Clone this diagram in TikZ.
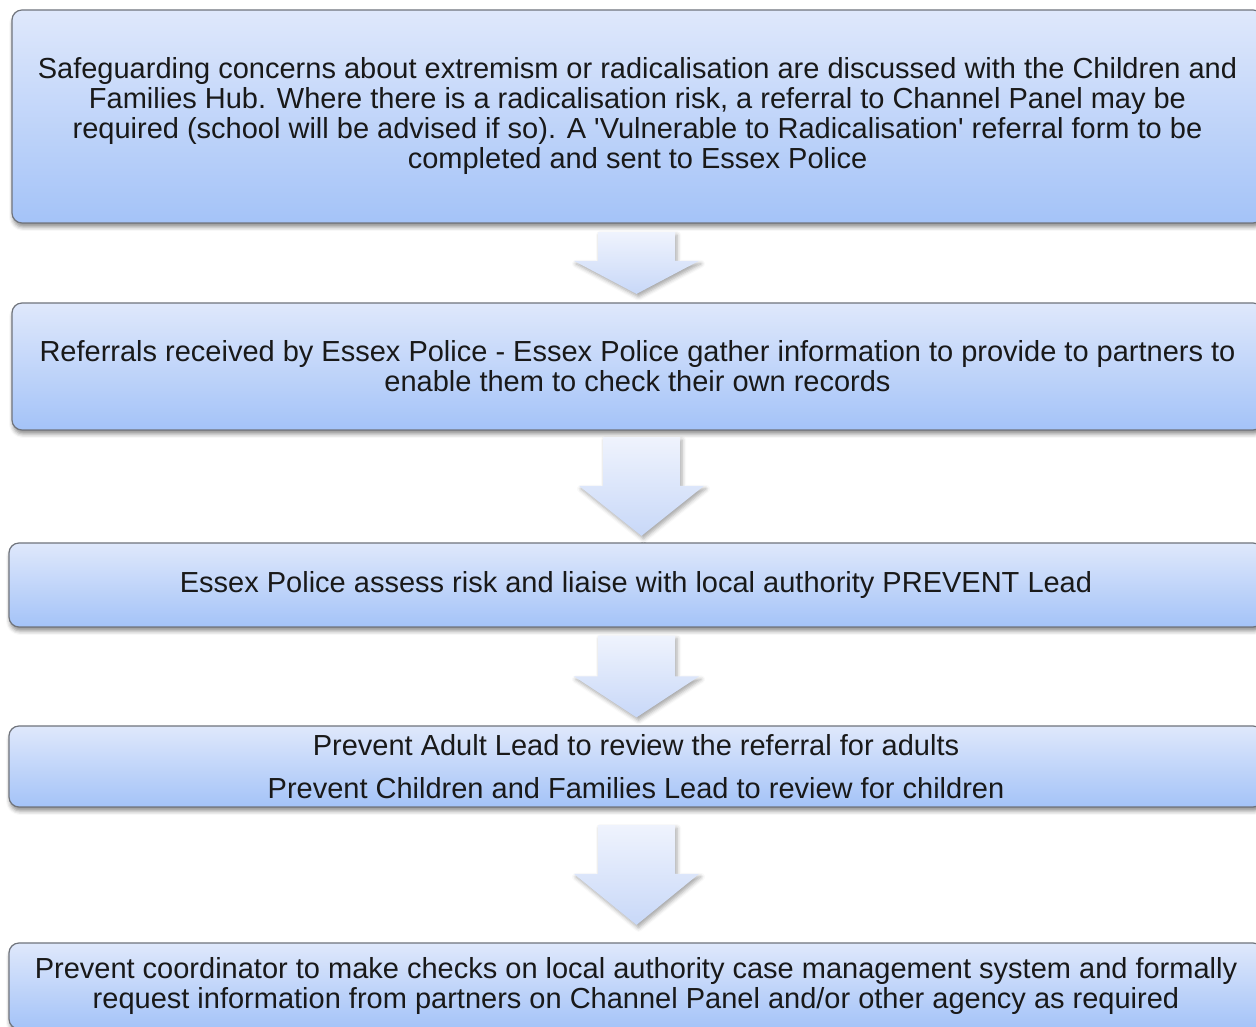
\documentclass[tikz,border=0pt]{standalone}
\usepackage{fontspec}
\newfontfamily\flowfont{Liberation Sans}
\usetikzlibrary{calc,shadows.blur}

\definecolor{boxtop}{RGB}{223,232,251}
\definecolor{boxbottom}{RGB}{164,195,248}
\definecolor{boxline}{RGB}{112,116,124}
\definecolor{arrowtop}{RGB}{239,243,253}
\definecolor{arrowbottom}{RGB}{200,216,248}

% block arrow: from, to, x, gap, head length
\newcommand{\flowarrow}[5]{%
\path [arrowfill] let \p1=(#1.south), \p2=(#2.north) in
    (#3-38.5,\y1-#4) -- (#3+38.5,\y1-#4) -- (#3+38.5,\y2+#4+#5) -- (#3+62.5,\y2+#4+#5)
    -- (#3,\y2+#4) -- (#3-62.5,\y2+#4+#5) -- (#3-38.5,\y2+#4+#5) -- cycle;}

\begin{document}
\begin{tikzpicture}[x=1pt,y=1pt,
    stagebox/.style={draw=boxline,
        line width=1.2pt,
        rounded corners=10pt,
        top color=boxtop,
        bottom color=boxbottom,
        blur shadow={shadow xshift=1pt, shadow yshift=-4pt, shadow blur radius=4pt, shadow opacity=45},
        align=center,
        inner sep=0pt,
        text=black!90,
        font=\flowfont\fontsize{29}{30}\selectfont},
    arrowfill/.style={draw=none,
        top color=arrowtop,
        bottom color=arrowbottom,
        blur shadow={shadow xshift=2pt, shadow yshift=-3pt, shadow blur radius=4pt, shadow opacity=35}}
]
\useasboundingbox (0,0) rectangle (1256,1027);

% Box 1
\node (concern) [stagebox,
    minimum width=1251pt,
    minimum height=213pt
] at (637.5,910.5) {Safeguarding concerns about extremism or radicalisation are discussed with the Children and\\
Families Hub.  Where there is a radicalisation risk, a referral to Channel Panel may be\\
required (school will be advised if so).  A 'Vulnerable to Radicalisation' referral form to be\\
completed and sent to Essex Police};

% Box 2
\node (received) [stagebox,
    minimum width=1251pt,
    minimum height=127pt
] at (637.5,660.5) {Referrals received by Essex Police - Essex Police gather information to provide to partners to\\
enable them to check their own records};

% Box 3
\node (assess) [stagebox,
    minimum width=1254pt,
    minimum height=84pt
] at (636,442) {Essex Police assess risk and liaise with local authority PREVENT Lead};

% Box 4
\node (review) [stagebox,
    minimum width=1254pt,
    minimum height=81pt
] at (636,260.5) {Prevent Adult Lead to review the referral for adults\\[13pt]
Prevent Children and Families Lead to review for children};

% Box 5
\node (checks) [stagebox,
    minimum width=1254pt,
    minimum height=86pt
] at (636,41) {Prevent coordinator to make checks on local authority case management system and formally\\
request information from partners on Channel Panel and/or other agency as required};

% arrows
\flowarrow{concern}{received}{636.5}{8.5}{33}
\flowarrow{received}{assess}{641.5}{6.5}{50}
\flowarrow{assess}{review}{636.5}{8}{41}
\flowarrow{review}{checks}{636.5}{17.5}{51}

\end{tikzpicture}
\end{document}
